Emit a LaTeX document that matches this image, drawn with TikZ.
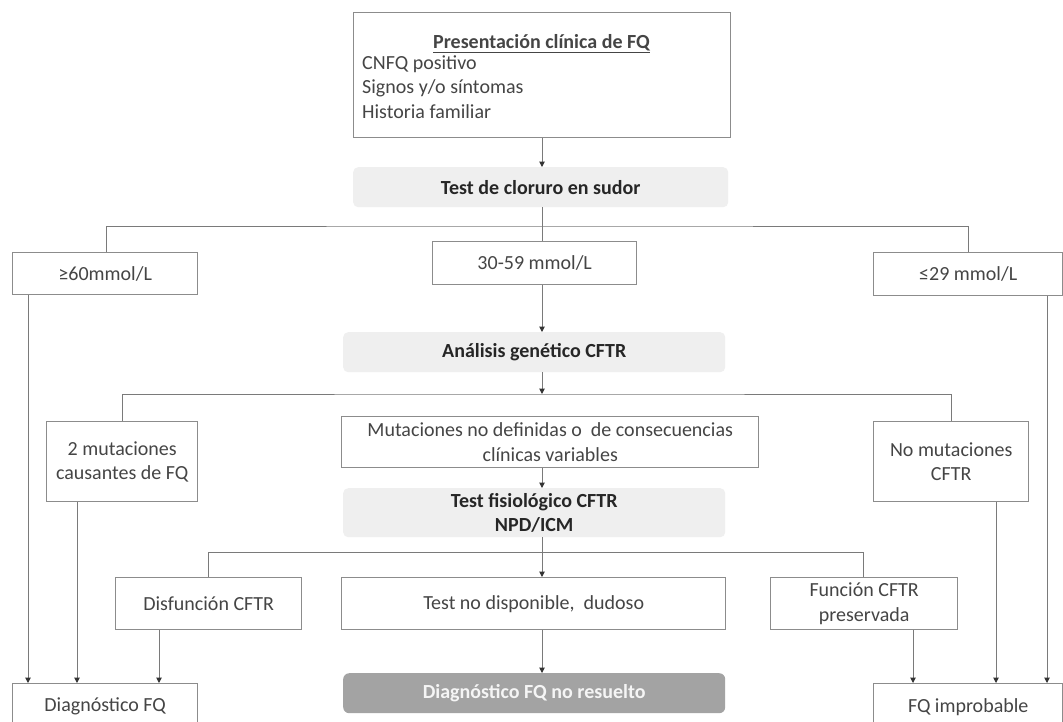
\documentclass[tikz,border=0pt]{standalone}
\usepackage{fontspec}
\setmainfont{Carlito}
\usetikzlibrary{arrows.meta}
\definecolor{linec}{HTML}{7A7A7A}
\definecolor{boxc}{HTML}{8C8C8C}
\definecolor{txtc}{HTML}{454545}
\definecolor{lightf}{HTML}{EFEFEF}
\definecolor{darkf}{HTML}{A3A3A3}
\tikzset{
  fnt/.style={font=\fontsize{20}{24.5}\selectfont},
  box/.style={draw=boxc, line width=1.4pt, fill=white, inner sep=0pt, align=center, text=txtc, fnt},
  graybox/.style={draw=none, fill=lightf, rounded corners=5pt, inner sep=0pt, align=center, text=black!85, font=\fontsize{20}{24.5}\selectfont\bfseries},
  darkbox/.style={draw=none, fill=darkf, rounded corners=6pt, inner sep=0pt, align=center, text=white!92!gray, font=\fontsize{20}{24.5}\selectfont\bfseries},
  plain/.style={text=txtc, fnt, inner sep=0pt, anchor=base west},
  conn/.style={draw=linec, line width=1pt},
  arr/.style={conn, -{Triangle[width=5.5pt,length=5.5pt,color=black!80]}},
}
\begin{document}
\begin{tikzpicture}[x=1pt,y=-1pt]
\useasboundingbox[fill=white] (0,0) rectangle (1063,721);
% boxes
\node[box, minimum width=377, minimum height=125, anchor=north west] (top) at (353,12) {};
\node[text=txtc, font=\fontsize{20}{24.5}\selectfont\bfseries, inner sep=0pt, anchor=base] (toptitle) at (541.5,48) {\underline{Presentación clínica de FQ}};
\node[plain] (l1) at (362,69) {CNFQ positivo};
\node[plain] (l2) at (362,93.5) {Signos y/o síntomas};
\node[plain] (l3) at (362,118) {Historia familiar};
\node[graybox, minimum width=375, minimum height=40, anchor=north west] (sweat) at (353,167) {Test de cloruro en sudor};
\node[box, minimum width=185, minimum height=42, anchor=north west] (ge60) at (12,252) {≥60mmol/L};
\node[box, minimum width=204, minimum height=43, anchor=north west] (mid) at (432,241) {30-59 mmol/L};
\node[box, minimum width=189, minimum height=43, anchor=north west] (le29) at (873,252) {≤29 mmol/L};
\node[graybox, minimum width=382, minimum height=40, anchor=north west] (gen) at (343,332) {Análisis genético CFTR};
\node[box, minimum width=151, minimum height=80, anchor=north west] (two) at (46,421) {2 mutaciones\\causantes de FQ};
\node[box, minimum width=417, minimum height=51, anchor=north west] (undef) at (341,416) {Mutaciones no definidas o\ \ de consecuencias\\clínicas variables};
\node[box, minimum width=155, minimum height=80, anchor=north west] (nomut) at (873,421) {No mutaciones\\CFTR};
\node[graybox, minimum width=382, minimum height=49, anchor=north west] (phys) at (343,488) {Test fisiológico CFTR\\NPD/ICM};
\node[box, minimum width=186, minimum height=52, anchor=north west] (dys) at (115,577) {Disfunción CFTR};
\node[box, minimum width=384, minimum height=52, anchor=north west] (na) at (341,577) {Test no disponible,\ \ dudoso};
\node[box, minimum width=187, minimum height=52, anchor=north west] (pres) at (770,577) {Función CFTR\\preservada};
\node[box, minimum width=185, minimum height=46, anchor=north west] (dx) at (12,683) {Diagnóstico FQ};
\node[darkbox, minimum width=382, minimum height=40, anchor=north west] (unres) at (343,673) {Diagnóstico FQ no resuelto};
\node[box, minimum width=189, minimum height=46, anchor=north west] (impr) at (873,683) {FQ improbable};
% junction coordinates
\coordinate (j1) at (542,226);
\coordinate (j2) at (542,394);
\coordinate (j3) at (542,552);
% connectors
\draw[arr] (top.south -| j1) -- (sweat.north -| j1);
\draw[conn] (sweat.south -| j1) -- (mid.north -| j1);
\draw[conn] (ge60.north -| 106,0) |- (j1) -| (le29.north -| 968,0);
\draw[arr] (mid.south -| j1) -- (gen.north -| j1);
\draw[arr] (gen.south -| j1) -- (j2);
\draw[conn] (two.north -| 122,0) |- (j2) -| (nomut.north -| 951,0);
\draw[arr] (undef.south -| j1) -- (phys.north -| j1);
\draw[conn] (phys.south -| j1) -- (j3);
\draw[conn] (dys.north -| 208,0) |- (j3) -| (pres.north -| 863,0);
\draw[arr] (j3) -- (na.north -| j1);
\draw[arr] (na.south -| j1) -- (unres.north -| j1);
\draw[arr] (ge60.south -| 28,0) -- (dx.north -| 28,0);
\draw[arr] (two.south -| 77,0) -- (dx.north -| 77,0);
\draw[arr] (dys.south -| 159,0) -- (dx.north -| 159,0);
\draw[arr] (pres.south -| 913,0) -- (impr.north -| 913,0);
\draw[arr] (nomut.south -| 996,0) -- (impr.north -| 996,0);
\draw[arr] (le29.south -| 1047,0) -- (impr.north -| 1047,0);
\end{tikzpicture}
\end{document}
